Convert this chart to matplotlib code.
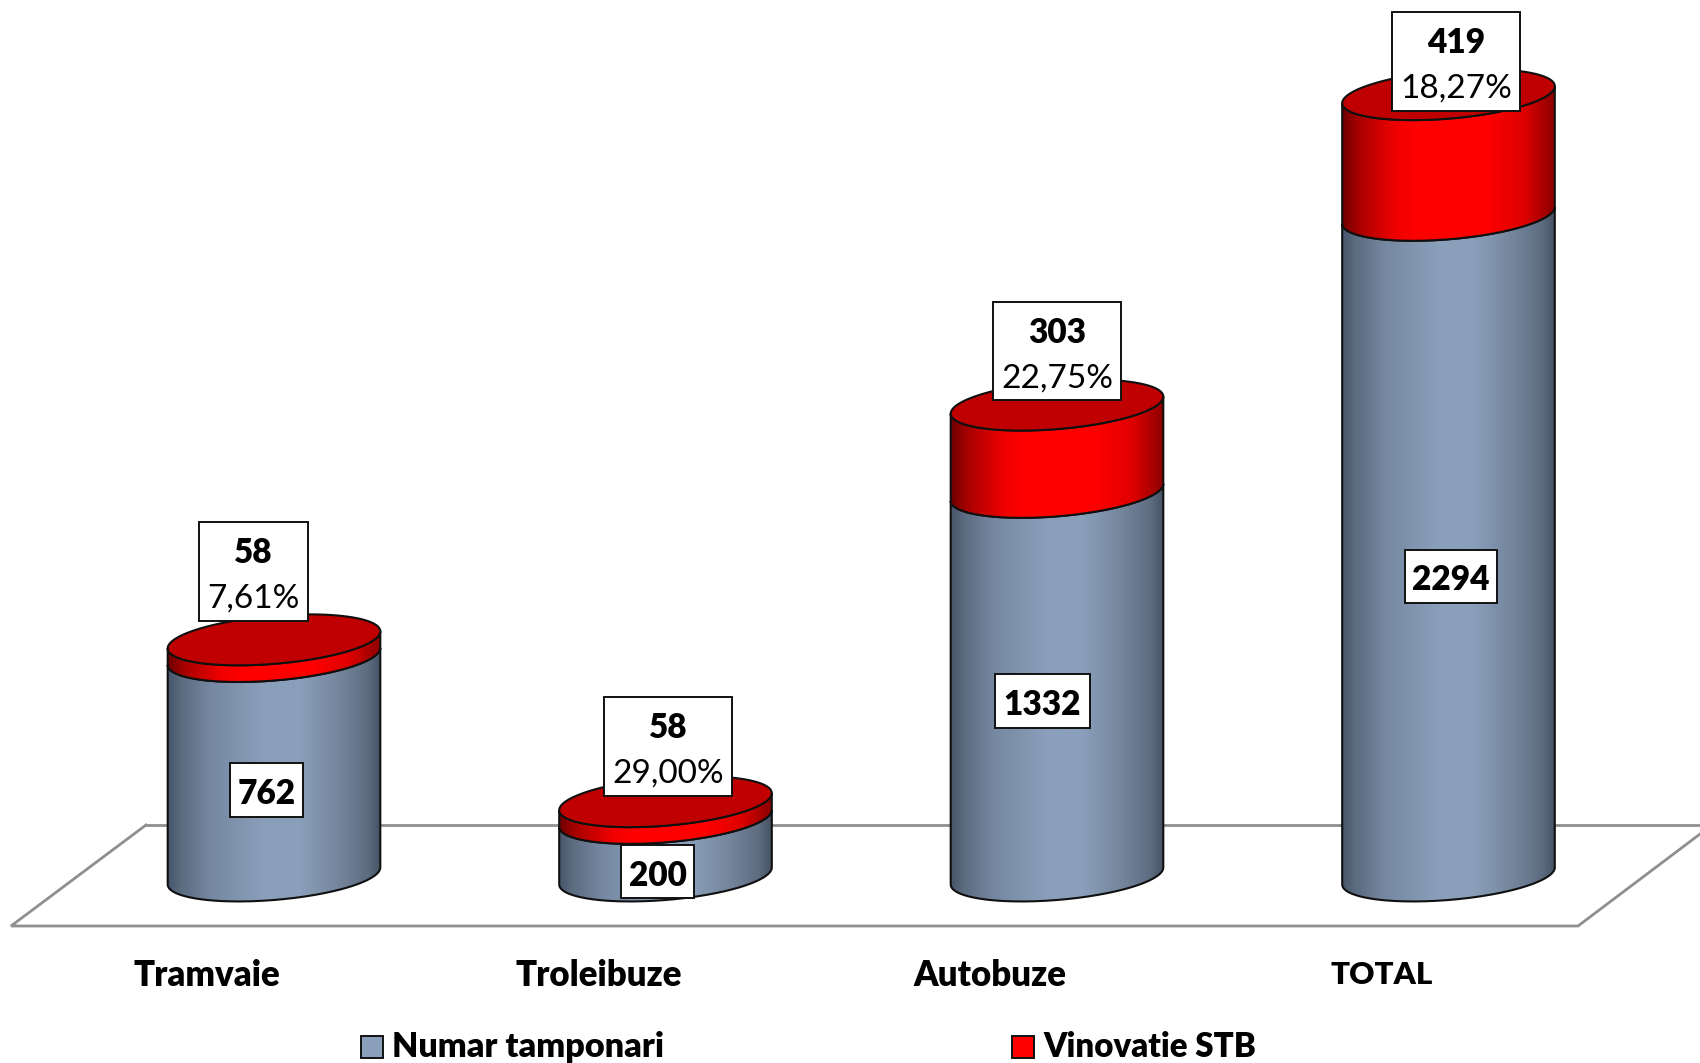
import numpy as np
import matplotlib
matplotlib.use("Agg")
import matplotlib.pyplot as plt
from matplotlib.colors import LinearSegmentedColormap
from matplotlib.patches import PathPatch, Polygon, Rectangle
from matplotlib.path import Path
from matplotlib.transforms import Affine2D

categories = ["Tramvaie", "Troleibuze", "Autobuze", "TOTAL"]
numar_tamponari = [762, 200, 1332, 2294]
vinovatie_stb = [58, 58, 303, 419]
procente = ["7,61%", "29,00%", "22,75%", "18,27%"]
series_names = ["Numar tamponari", "Vinovatie STB"]

W, H = 1700, 1063
plt.rcParams["font.family"] = ["Lato", "DejaVu Sans"]
fig = plt.figure(figsize=(W / 100, H / 100), dpi=100, facecolor="white")
ax = fig.add_axes([0, 0, 1, 1])

# scales: category 0 sits at 274 px, 391.5 px per category; value 0 at 876 px, 0.288 px per unit
PX_X, PX_Y = 391.5, 0.288
ax.set_xlim((0 - 274) / PX_X, (W - 274) / PX_X)
ax.set_ylim((876 - H) / PX_Y, 876 / PX_Y)
ax.axis("off")
px = Affine2D().scale(1 / W, -1 / H).translate(0, 1) + fig.transFigure

RX = 106.3 / PX_X
RY = 24 / PX_Y
TILT = 8.5 / PX_Y

grey_cm = LinearSegmentedColormap.from_list("g", [
    (0.0, "#47566a"), (0.06, "#5b6b80"), (0.2, "#7688a1"), (0.45, "#8a9fba"),
    (0.62, "#8a9fba"), (0.82, "#728399"), (0.94, "#5d6c80"), (1.0, "#465364")])
red_cm = LinearSegmentedColormap.from_list("r", [
    (0.0, "#6e0000"), (0.07, "#a50000"), (0.25, "#f00000"), (0.35, "#ff0000"),
    (0.68, "#ff0000"), (0.85, "#e00000"), (1.0, "#8c0000")])


def arc(cx, v, t):
    return np.column_stack([cx + RX * np.cos(t), v + TILT * np.cos(t) - RY * np.sin(t)])


def side(cx, v0, v1, cmap, z):
    t = np.linspace(np.pi, 0, 120)
    pts = np.vstack([arc(cx, v0, t), arc(cx, v1, t[::-1]), arc(cx, v0, t[:1])])
    patch = PathPatch(Path(pts), facecolor="none", edgecolor="#101010", lw=1.5, zorder=z + 0.1)
    ax.add_patch(patch)
    grad = np.linspace(0, 1, 256)[None, :]
    im = ax.imshow(grad, cmap=cmap, extent=[cx - RX, cx + RX, v0 - 2 * RY, v1 + 2 * RY],
                   aspect="auto", zorder=z, interpolation="bilinear")
    im.set_clip_path(patch)


def cap(cx, v, z):
    t = np.linspace(0, 2 * np.pi, 240)
    ax.add_patch(Polygon(arc(cx, v, t), closed=True, facecolor="#c00000",
                         edgecolor="#101010", lw=1.5, zorder=z))


# floor
FLOOR = "#8f8f8f"
ax.plot([146, 11, 1578, 1712], [825, 926, 926, 825], color=FLOOR, lw=2.0, transform=px,
        clip_on=True, zorder=1, solid_joinstyle="miter")
ax.plot([146, W], [825, 825], color=FLOOR, lw=2.0, transform=px, zorder=1)

# cylinders
for i, (g, r) in enumerate(zip(numar_tamponari, vinovatie_stb)):
    side(i, 0, g, grey_cm, 2)
    side(i, g, g + r, red_cm, 3)
    cap(i, g + r, 4)


# labels: boxes in pixels
def box(x0, x1, y0, y1):
    ax.add_patch(Rectangle((x0, y0), x1 - x0, y1 - y0, transform=px, facecolor="white",
                           edgecolor="#111111", lw=1.4, zorder=6))


BOLD = "heavy"
top_boxes = [(199, 308, 522, 621), (604, 732, 697, 796), (993, 1121, 302, 400), (1392, 1520, 12, 111)]
mid_boxes = [(230, 303, 763, 817), (621, 694, 845, 898), (995, 1090, 674, 728), (1405, 1497, 550, 603)]
for i, (x0, x1, y0, y1) in enumerate(top_boxes):
    box(x0, x1, y0, y1)
    xc = (x0 + x1) / 2
    ax.text(xc, y0 + 28, str(vinovatie_stb[i]), transform=px, ha="center", va="center_baseline",
            fontsize=24, fontweight=BOLD, zorder=7)
    ax.text(xc, y0 + 74, procente[i], transform=px, ha="center", va="center_baseline",
            fontsize=24, zorder=7)
for i, (x0, x1, y0, y1) in enumerate(mid_boxes):
    box(x0, x1, y0, y1)
    ax.text((x0 + x1) / 2, (y0 + y1) / 2 + 1, str(numar_tamponari[i]), transform=px, ha="center",
            va="center_baseline", fontsize=24, fontweight=BOLD, zorder=7)

# category labels
cat_sizes = [25, 25, 25, 22.5]
for i, c in enumerate(categories):
    ax.text(207 + i * PX_X, 973, c, transform=px, ha="center", va="center_baseline",
            fontsize=cat_sizes[i], fontweight=BOLD, zorder=7)

# legend
for (x0, col, name, fs) in zip([361, 1012], ["#8a9fba", "#ff0000"], series_names, [24.6, 23.8]):
    ax.add_patch(Rectangle((x0, 1036), 22, 22, transform=px, facecolor=col,
                           edgecolor="#111111", lw=1.4, zorder=7, clip_on=False))
    ax.text(x0 + 31, 1044, name, transform=px, ha="left", va="center_baseline",
            fontsize=fs, fontweight=BOLD, zorder=7)

fig.savefig("out.png", dpi=100, facecolor="white")
